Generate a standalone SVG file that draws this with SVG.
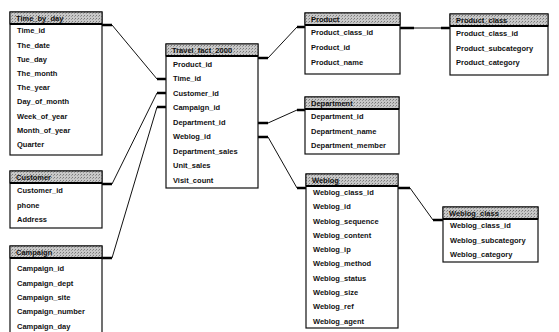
<svg xmlns="http://www.w3.org/2000/svg" width="559" height="332" viewBox="0 0 559 332">
<defs>
<pattern id="dots" width="3" height="3" patternUnits="userSpaceOnUse">
<rect width="3" height="3" fill="#c8c8c8"/>
<rect x="0" y="0" width="1" height="1" fill="#7a7a7a"/>
<rect x="2" y="1" width="1" height="1" fill="#999"/>
</pattern>
</defs>
<style>
.box{fill:#fff;stroke:#111;stroke-width:1.2}
.hdr{fill:url(#dots);stroke:#111;stroke-width:1}
.hl{stroke:#000;stroke-width:2}
text{font-family:"Liberation Sans",Arial,sans-serif;font-size:7.5px;font-weight:bold;fill:#111}
.ht{font-size:7.5px}
.ln{fill:none;stroke:#111;stroke-width:1}
.st{stroke:#000;stroke-width:2.6;fill:none}
</style>
<rect width="559" height="332" fill="#fff"/>

<g id="connectors">
<!-- Time_by_day - Travel_fact -->
<path class="st" d="M102 25H112M157 79H166"/><path class="ln" d="M112 25L157 79"/>
<!-- Customer - Travel_fact -->
<path class="st" d="M102 184H112M157 93H166"/><path class="ln" d="M112 184L157 93"/>
<!-- Campaign - Travel_fact -->
<path class="st" d="M102 258H112M157 107H166"/><path class="ln" d="M112 258L157 107"/>
<!-- Travel_fact - Product -->
<path class="st" d="M258 58H268M297 27H305"/><path class="ln" d="M268 58L297 27"/>
<!-- Travel_fact - Department -->
<path class="st" d="M258 123H268M297 110H305"/><path class="ln" d="M268 123L297 110"/>
<!-- Travel_fact - Weblog -->
<path class="st" d="M258 137H268M297 188H306"/><path class="ln" d="M268 137L297 188"/>
<!-- Product - Product_class -->
<path class="st" d="M400 28H414M441 28H450"/><path class="ln" d="M414 28H441"/>
<!-- Weblog - Weblog_class -->
<path class="st" d="M398 188H410M433 220H443"/><path class="ln" d="M410 188L433 220"/>
</g>

<g id="time_by_day">
<rect class="box" x="10" y="12" width="92" height="143"/>
<rect class="hdr" x="10" y="12" width="92" height="12"/><line class="hl" x1="10" y1="24" x2="102" y2="24"/>
<text x="16" y="21">Time_by_day</text>
<text x="17" y="33">Time_id</text>
<text x="17" y="47.5">The_date</text>
<text x="17" y="61.5">Tue_day</text>
<text x="17" y="76">The_month</text>
<text x="17" y="90">The_year</text>
<text x="17" y="104">Day_of_month</text>
<text x="17" y="118.5">Week_of_year</text>
<text x="17" y="132.5">Month_of_year</text>
<text x="17" y="147">Quarter</text>
</g>

<g id="customer">
<rect class="box" x="10" y="171" width="92" height="57"/>
<rect class="hdr" x="10" y="171" width="92" height="12"/><line class="hl" x1="10" y1="183" x2="102" y2="183"/>
<text x="16" y="180">Customer</text>
<text x="17" y="193">Customer_id</text>
<text x="17" y="208">phone</text>
<text x="17" y="222">Address</text>
</g>

<g id="campaign">
<rect class="box" x="10" y="246" width="92" height="90"/>
<rect class="hdr" x="10" y="246" width="92" height="12"/><line class="hl" x1="10" y1="258" x2="102" y2="258"/>
<text x="16" y="255">Campaign</text>
<text x="17" y="271">Campaign_id</text>
<text x="17" y="286">Campaign_dept</text>
<text x="17" y="300">Campaign_site</text>
<text x="17" y="314">Campaign_number</text>
<text x="17" y="329">Campaign_day</text>
</g>

<g id="travel_fact_2000">
<rect class="box" x="166" y="44" width="92" height="144"/>
<rect class="hdr" x="166" y="44" width="92" height="12"/><line class="hl" x1="166" y1="56" x2="258" y2="56"/>
<text x="172" y="53">Travel_fact_2000</text>
<text x="173" y="67">Product_id</text>
<text x="173" y="81">Time_id</text>
<text x="173" y="96">Customer_id</text>
<text x="173" y="110">Campaign_id</text>
<text x="173" y="125">Department_id</text>
<text x="173" y="139">Weblog_id</text>
<text x="173" y="154">Department_sales</text>
<text x="173" y="168">Unit_sales</text>
<text x="173" y="183">Visit_count</text>
</g>

<g id="product">
<rect class="box" x="305" y="13" width="95" height="61"/>
<rect class="hdr" x="305" y="13" width="95" height="12"/><line class="hl" x1="305" y1="25" x2="400" y2="25"/>
<text x="311" y="22">Product</text>
<text x="311" y="35">Product_class_id</text>
<text x="311" y="50">Product_id</text>
<text x="311" y="65">Product_name</text>
</g>

<g id="product_class">
<rect class="box" x="450" y="14" width="98" height="61"/>
<rect class="hdr" x="450" y="14" width="98" height="12"/><line class="hl" x1="450" y1="26" x2="548" y2="26"/>
<text x="456" y="23">Product_class</text>
<text x="456" y="36">Product_class_id</text>
<text x="456" y="51">Product_subcategory</text>
<text x="456" y="65">Product_category</text>
</g>

<g id="department">
<rect class="box" x="305" y="97" width="94" height="57"/>
<rect class="hdr" x="305" y="97" width="94" height="12"/><line class="hl" x1="305" y1="109" x2="399" y2="109"/>
<text x="311" y="106">Department</text>
<text x="311" y="119">Department_id</text>
<text x="311" y="134">Department_name</text>
<text x="311" y="148">Department_member</text>
</g>

<g id="weblog">
<rect class="box" x="306" y="174" width="92" height="154"/>
<rect class="hdr" x="306" y="174" width="92" height="12"/><line class="hl" x1="306" y1="186" x2="398" y2="186"/>
<text x="312" y="183">Weblog</text>
<text x="313" y="195">Weblog_class_id</text>
<text x="313" y="209">Weblog_id</text>
<text x="313" y="223.5">Weblog_sequence</text>
<text x="313" y="238">Weblog_content</text>
<text x="313" y="252">Weblog_ip</text>
<text x="313" y="266">Weblog_method</text>
<text x="313" y="281">Weblog_status</text>
<text x="313" y="295">Weblog_size</text>
<text x="313" y="309">Weblog_ref</text>
<text x="313" y="323.5">Weblog_agent</text>
</g>

<g id="weblog_class">
<rect class="box" x="443" y="207" width="95" height="55"/>
<rect class="hdr" x="443" y="207" width="95" height="12"/><line class="hl" x1="443" y1="219" x2="538" y2="219"/>
<text x="449" y="216">Weblog_class</text>
<text x="450" y="228">Weblog_class_id</text>
<text x="450" y="243">Weblog_subcategory</text>
<text x="450" y="257">Weblog_category</text>
</g>
</svg>
